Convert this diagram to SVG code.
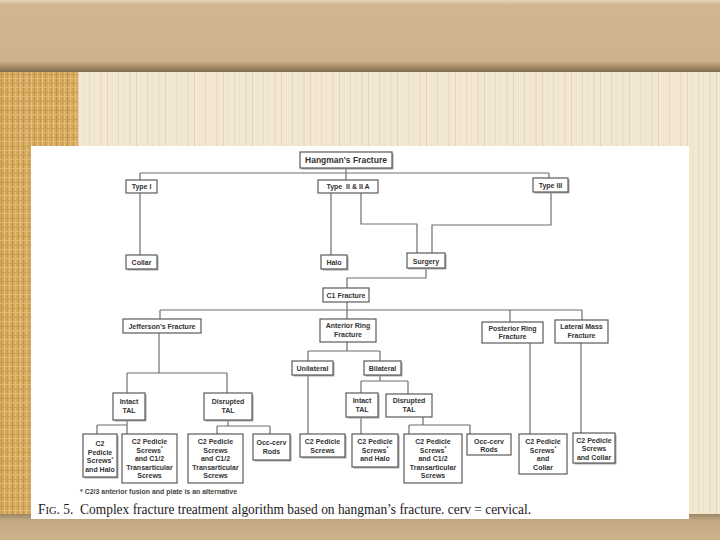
<svg xmlns="http://www.w3.org/2000/svg" width="720" height="540" viewBox="0 0 720 540">
<defs>
<linearGradient id="topband" x1="0" y1="0" x2="0" y2="1">
<stop offset="0" stop-color="#e6d4b6"/>
<stop offset="0.07" stop-color="#d2b68f"/>
<stop offset="0.85" stop-color="#cfb28b"/>
<stop offset="0.93" stop-color="#a48c68"/>
<stop offset="1" stop-color="#7d6a4e"/>
</linearGradient>
<linearGradient id="botband" x1="0" y1="0" x2="0" y2="1">
<stop offset="0" stop-color="#9c8665"/>
<stop offset="0.25" stop-color="#c3aa84"/>
<stop offset="1" stop-color="#cdb28c"/>
</linearGradient>
<pattern id="cream" width="29" height="13" patternUnits="userSpaceOnUse">
<rect width="29" height="13" fill="#f2e7d1"/>
<rect x="2" width="1" height="13" fill="#e8dabe"/>
<rect x="7" width="1" height="13" fill="#eee2ca"/>
<rect x="13" width="2" height="13" fill="#ebdec4"/>
<rect x="20" width="1" height="13" fill="#e4d4b6"/>
<rect x="25" width="1" height="13" fill="#eee2ca"/>
</pattern>
<pattern id="gold" width="11" height="9" patternUnits="userSpaceOnUse">
<rect width="11" height="9" fill="#d7a95c"/>
<rect x="1" width="1" height="9" fill="#bf914d"/>
<rect x="4" width="1" height="9" fill="#e3bf7c"/>
<rect x="7" width="1" height="9" fill="#c79952"/>
<rect x="9" width="1" height="9" fill="#e5c586"/>
<rect y="2" width="11" height="1" fill="#cb9d55"/>
<rect y="6" width="11" height="1" fill="#e0ba75"/>
</pattern>
<style>
.box{fill:#fff;stroke:#5a5a5a;stroke-width:1.2}
.sh{fill:#a8a8a8}
.t{font-family:"Liberation Sans",Arial,sans-serif;font-weight:bold;font-size:7px;fill:#333;text-anchor:middle}
.big{font-size:8.5px}
.ln{fill:none;stroke:#6e6e6e;stroke-width:1.2}
.sup{font-size:4.5px}
</style>
</defs>
<g id="background">
<rect width="720" height="540" fill="#cdb28c"/>
<rect x="0" y="70" width="720" height="446" fill="url(#cream)"/>
<rect x="0" y="70" width="78" height="446" fill="url(#gold)"/>
<rect x="0" y="0" width="720" height="72" fill="url(#topband)"/>
<rect x="0" y="514" width="720" height="26" fill="url(#botband)"/>
<rect x="31" y="146" width="658" height="373" fill="#ffffff"/>
</g>
<g id="connectors">
<path class="ln" d="M346 168 V180 M140 173 H549 M140 173 V180 M549 173 V178"/>
<path class="ln" d="M140 193 V255 M331 193 V255"/>
<path class="ln" d="M361 193 V224 H417 V253 M551 192 V225 H432 V253"/>
<path class="ln" d="M426 268 V278 H347 V288"/>
<path class="ln" d="M347 302 V319 M160 310 H582 M160 310 V319 M510 310 V322 M582 310 V320"/>
<path class="ln" d="M159 333 V373 M127 373 H227 M127 373 V393 M227 373 V393"/>
<path class="ln" d="M347 342 V351 M308 351 H380 M308 351 V361 M380 351 V361"/>
<path class="ln" d="M380 374 V381 M361 381 H408 M361 381 V393 M408 381 V394"/>
<path class="ln" d="M308 375 V434 M361 417 V434"/>
<path class="ln" d="M423 417 V425 M409 425 H470 M409 425 V434 M470 425 V434"/>
<path class="ln" d="M530 343 V434 M581 343 V433"/>
<path class="ln" d="M127 420 V434 M97 425 H127 M97 425 V434"/>
<path class="ln" d="M228 420 V426 M217 426 H270 M217 426 V434 M270 426 V434"/>
</g>
<g id="n-hangman"><rect class="sh" x="301.5" y="153.5" width="92" height="16"/><rect class="box" x="300" y="152" width="92" height="16"/><text class="t big" x="346" y="163">Hangman's Fracture</text></g>
<g id="n-type1"><rect class="box" x="126" y="180" width="31" height="13"/><text class="t" x="141.5" y="189">Type I</text></g>
<g id="n-type2"><rect class="box" x="318" y="180" width="60" height="13"/><text class="t" x="348" y="189" xml:space="preserve">Type  II &amp; II A</text></g>
<g id="n-type3"><rect class="sh" x="534.5" y="179.5" width="35" height="14"/><rect class="box" x="533" y="178" width="35" height="14"/><text class="t" x="550.5" y="188">Type III</text></g>
<g id="n-collar"><rect class="sh" x="127.5" y="256.5" width="31" height="14"/><rect class="box" x="126" y="255" width="31" height="14"/><text class="t" x="141.5" y="265">Collar</text></g>
<g id="n-halo"><rect class="sh" x="322.5" y="256.5" width="26" height="14"/><rect class="box" x="321" y="255" width="26" height="14"/><text class="t" x="334" y="265">Halo</text></g>
<g id="n-surgery"><rect class="sh" x="408.5" y="254.5" width="38" height="15"/><rect class="box" x="407" y="253" width="38" height="15"/><text class="t" x="426" y="263.5">Surgery</text></g>
<g id="n-c1"><rect class="box" x="323" y="288" width="46" height="14"/><text class="t" x="346" y="298">C1 Fracture</text></g>
<g id="n-jefferson"><rect class="box" x="123" y="319" width="78" height="14"/><text class="t" x="162" y="329">Jefferson’s Fracture</text></g>
<g id="n-anterior"><rect class="box" x="320" y="319" width="56" height="23"/><text class="t" x="348" y="328">Anterior Ring</text><text class="t" x="348" y="337">Fracture</text></g>
<g id="n-posterior"><rect class="box" x="482" y="322" width="61" height="21"/><text class="t" x="512.5" y="330.5">Posterior Ring</text><text class="t" x="512.5" y="339">Fracture</text></g>
<g id="n-lateral"><rect class="box" x="555" y="320" width="53" height="23"/><text class="t" x="581.5" y="329">Lateral Mass</text><text class="t" x="581.5" y="337.5">Fracture</text></g>
<g id="n-unilateral"><rect class="sh" x="293.5" y="362.5" width="41" height="14"/><rect class="box" x="292" y="361" width="41" height="14"/><text class="t" x="312.5" y="370.5">Unilateral</text></g>
<g id="n-bilateral"><rect class="sh" x="365.5" y="362.5" width="37" height="14"/><rect class="box" x="364" y="361" width="37" height="14"/><text class="t" x="382.5" y="370.5">Bilateral</text></g>
<g id="n-intact1"><rect class="sh" x="114.5" y="394.5" width="32" height="27"/><rect class="box" x="113" y="393" width="32" height="27"/><text class="t" x="129" y="404">Intact</text><text class="t" x="129" y="413">TAL</text></g>
<g id="n-disrupted1"><rect class="sh" x="205.5" y="394.5" width="48" height="27"/><rect class="box" x="204" y="393" width="48" height="27"/><text class="t" x="228" y="404">Disrupted</text><text class="t" x="228" y="413">TAL</text></g>
<g id="n-intact2"><rect class="sh" x="347.5" y="394.5" width="32" height="24"/><rect class="box" x="346" y="393" width="32" height="24"/><text class="t" x="362" y="403">Intact</text><text class="t" x="362" y="412">TAL</text></g>
<g id="n-disrupted2"><rect class="box" x="386" y="394" width="46" height="23"/><text class="t" x="409" y="403">Disrupted</text><text class="t" x="409" y="412">TAL</text></g>
<g id="n-b1"><rect class="sh" x="84.5" y="435.5" width="34" height="43"/><rect class="box" x="83" y="434" width="34" height="43"/><text class="t" x="100" y="446">C2</text><text class="t" x="100" y="454.5">Pedicle</text><text class="t" x="100" y="463">Screws<tspan class="sup" dy="-2.5">*</tspan></text><text class="t" x="100" y="471.5">and Halo</text></g>
<g id="n-b2"><rect class="box" x="122" y="434" width="55" height="49"/><text class="t" x="149.5" y="444">C2 Pedicle</text><text class="t" x="149.5" y="452.5">Screws<tspan class="sup" dy="-2.5">*</tspan></text><text class="t" x="149.5" y="461">and C1/2</text><text class="t" x="149.5" y="469.5">Transarticular</text><text class="t" x="149.5" y="478">Screws</text></g>
<g id="n-b3"><rect class="box" x="188" y="434" width="55" height="49"/><text class="t" x="215.5" y="444">C2 Pedicle</text><text class="t" x="215.5" y="452.5">Screws</text><text class="t" x="215.5" y="461">and C1/2</text><text class="t" x="215.5" y="469.5">Transarticular</text><text class="t" x="215.5" y="478">Screws</text></g>
<g id="n-b4"><rect class="sh" x="254.5" y="435.5" width="37" height="26"/><rect class="box" x="253" y="434" width="37" height="26"/><text class="t" x="271.5" y="445">Occ-cerv</text><text class="t" x="271.5" y="453.5">Rods</text></g>
<g id="n-b5"><rect class="sh" x="301.5" y="435.5" width="45" height="23"/><rect class="box" x="300" y="434" width="45" height="23"/><text class="t" x="322.5" y="444">C2 Pedicle</text><text class="t" x="322.5" y="452.5">Screws</text></g>
<g id="n-b6"><rect class="sh" x="353.5" y="435.5" width="46" height="33"/><rect class="box" x="352" y="434" width="46" height="33"/><text class="t" x="375" y="444">C2 Pedicle</text><text class="t" x="375" y="452.5">Screws<tspan class="sup" dy="-2.5">*</tspan></text><text class="t" x="375" y="461">and Halo</text></g>
<g id="n-b7"><rect class="box" x="404" y="434" width="58" height="49"/><text class="t" x="433" y="444">C2 Pedicle</text><text class="t" x="433" y="452.5">Screws<tspan class="sup" dy="-2.5">*</tspan></text><text class="t" x="433" y="461">and C1/2</text><text class="t" x="433" y="469.5">Transarticular</text><text class="t" x="433" y="478">Screws</text></g>
<g id="n-b8"><rect class="box" x="467" y="434" width="44" height="21"/><text class="t" x="489" y="443.5">Occ-cerv</text><text class="t" x="489" y="452">Rods</text></g>
<g id="n-b9"><rect class="box" x="519" y="434" width="48" height="40"/><text class="t" x="543" y="444">C2 Pedicle</text><text class="t" x="543" y="452.5">Screws<tspan class="sup" dy="-2.5">*</tspan></text><text class="t" x="543" y="461">and</text><text class="t" x="543" y="469.5">Collar</text></g>
<g id="n-b10"><rect class="sh" x="574.5" y="434.5" width="42" height="30"/><rect class="box" x="573" y="433" width="42" height="30"/><text class="t" x="594" y="442.5">C2 Pedicle</text><text class="t" x="594" y="451">Screws</text><text class="t" x="594" y="459.5">and Collar</text></g>
<g id="notes">
<text x="80" y="493.5" font-family="Liberation Sans, Arial, sans-serif" font-size="6.5" font-weight="bold" fill="#444" textLength="157" lengthAdjust="spacingAndGlyphs">* C2/3 anterior fusion and plate is an alternative</text>
<text x="38" y="514" font-family="Liberation Serif, Times New Roman, serif" font-size="14" fill="#1a1a1a" textLength="493" lengthAdjust="spacingAndGlyphs" xml:space="preserve">F<tspan font-size="11">IG</tspan>. 5.  Complex fracture treatment algorithm based on hangman’s fracture. cerv = cervical.</text>
</g>
</svg>
